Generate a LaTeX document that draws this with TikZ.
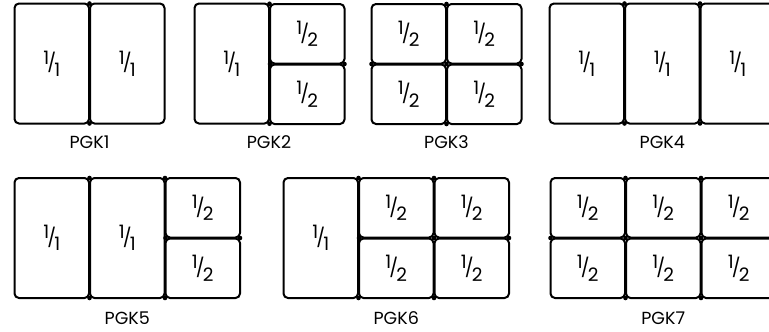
\documentclass[tikz,border=0pt]{standalone}
\usepackage{fontspec}
\setmainfont{Poppins}
\usetikzlibrary{calc}
\newcommand{\pfrac}[2]{\raisebox{0.33em}{#1}\kern-0.1em\raisebox{0.02em}{/}\kern-0.1em\raisebox{-0.33em}{#2}}

\begin{document}
\begin{tikzpicture}[x=1pt, y=-1pt,
    cell/.style={draw, line width=2pt, rounded corners=4.5pt, minimum width=74.5pt,
                 inner sep=0pt, outer sep=0pt, font=\fontsize{18.5}{21}\selectfont},
    full/.style={cell, minimum height=120pt},
    half/.style={cell, minimum height=59.5pt},
    lbl/.style={font=\fontsize{17.5}{20}\selectfont}]

    \useasboundingbox (0,0) rectangle (769,332);
    \clip (0,0) rectangle (769,332);

    % PGK1
    \node[full] (p1a) at (51.75,63.5) {\pfrac11};
    \node[full] (p1b) at (127.25,63.5) {\pfrac11};
    \node[lbl] (l1) at (89.5,142.5) {PGK1};

    % PGK2
    \node[full] (p2a) at (231.75,63.5) {\pfrac11};
    \node[half] (p2b) at (307.25,33.75) {\pfrac12};
    \node[half] (p2c) at (307.25,94.25) {\pfrac12};
    \node[lbl] (l2) at (269,142.5) {PGK2};

    % PGK3
    \node[half] (p3a) at (408.75,33.75) {\pfrac12};
    \node[half] (p3b) at (408.75,94.25) {\pfrac12};
    \node[half] (p3c) at (484.25,33.75) {\pfrac12};
    \node[half] (p3d) at (484.25,94.25) {\pfrac12};
    \node[lbl] (l3) at (446.5,142.5) {PGK3};

    % PGK4
    \node[full] (p4a) at (586.75,63.5) {\pfrac11};
    \node[full] (p4b) at (662.25,63.5) {\pfrac11};
    \node[full] (p4c) at (737.75,63.5) {\pfrac11};
    \node[lbl] (l4) at (662.25,142.5) {PGK4};

    % PGK5
    \node[full] (p5a) at (51.75,238) {\pfrac11};
    \node[full] (p5b) at (127.25,238) {\pfrac11};
    \node[half] (p5c) at (202.75,207.75) {\pfrac12};
    \node[half] (p5d) at (202.75,268.25) {\pfrac12};
    \node[lbl] (l5) at (127.25,318) {PGK5};

    % PGK6
    \node[full] (p6a) at (320.75,238) {\pfrac11};
    \node[half] (p6b) at (396.25,207.75) {\pfrac12};
    \node[half] (p6c) at (396.25,268.25) {\pfrac12};
    \node[half] (p6d) at (471.75,207.75) {\pfrac12};
    \node[half] (p6e) at (471.75,268.25) {\pfrac12};
    \node[lbl] (l6) at (396.25,318) {PGK6};

    % PGK7
    \node[half] (p7a) at (587.75,207.75) {\pfrac12};
    \node[half] (p7b) at (587.75,268.25) {\pfrac12};
    \node[half] (p7c) at (663.25,207.75) {\pfrac12};
    \node[half] (p7d) at (663.25,268.25) {\pfrac12};
    \node[half] (p7e) at (738.75,207.75) {\pfrac12};
    \node[half] (p7f) at (738.75,268.25) {\pfrac12};
    \node[lbl] (l7) at (663.25,318) {PGK7};

    % Dots where the cells meet
    \foreach \a/\b in {p1a.north east/p1b.north west, p1a.south east/p1b.south west,
                       p2a.north east/p2b.north west, p2a.south east/p2c.south west,
                       p2b.south west/p2c.north west, p2b.south east/p2c.north east,
                       p3a.north east/p3c.north west, p3b.south east/p3d.south west,
                       p3a.south west/p3b.north west, p3a.south east/p3d.north west,
                       p3c.south east/p3d.north east,
                       p4a.north east/p4b.north west, p4b.north east/p4c.north west,
                       p4a.south east/p4b.south west, p4b.south east/p4c.south west,
                       p5a.north east/p5b.north west, p5b.north east/p5c.north west,
                       p5a.south east/p5b.south west, p5b.south east/p5d.south west,
                       p5c.south west/p5d.north west, p5c.south east/p5d.north east,
                       p6a.north east/p6b.north west, p6b.north east/p6d.north west,
                       p6a.south east/p6c.south west, p6c.south east/p6e.south west,
                       p6b.south west/p6c.north west, p6b.south east/p6e.north west,
                       p6d.south east/p6e.north east,
                       p7a.north east/p7c.north west, p7c.north east/p7e.north west,
                       p7b.south east/p7d.south west, p7d.south east/p7f.south west,
                       p7a.south west/p7b.north west, p7a.south east/p7d.north west,
                       p7c.south east/p7f.north west}
        \fill ($(\a)!0.5!(\b)$) circle (2.3pt);

\end{tikzpicture}
\end{document}
